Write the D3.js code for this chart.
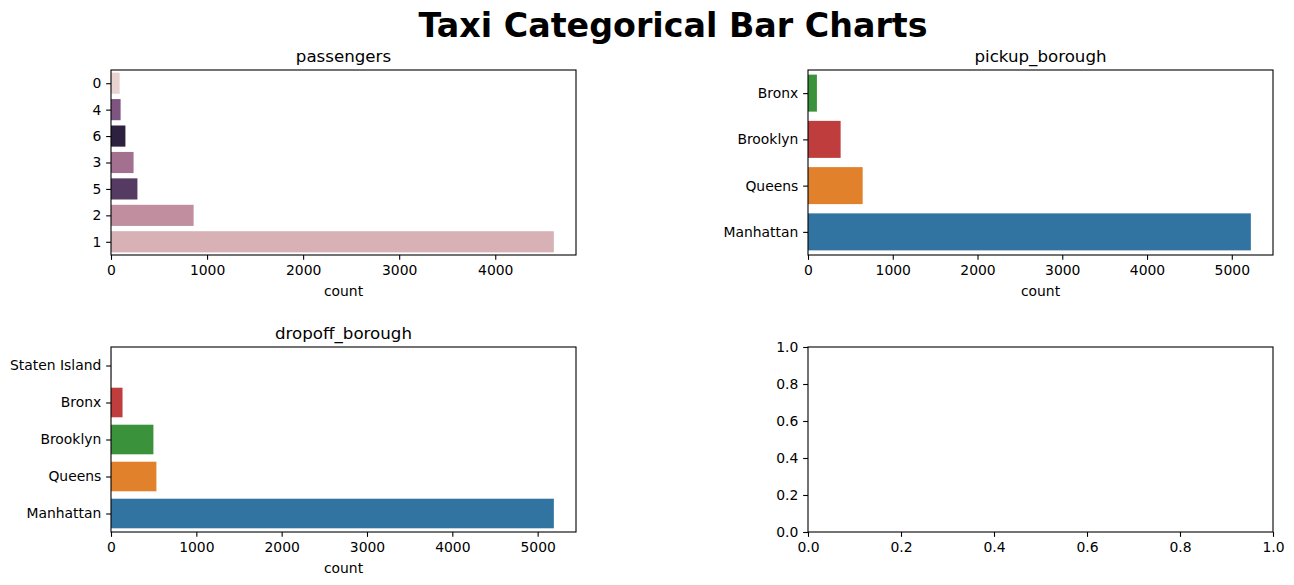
<!DOCTYPE html>
<html>
<head>
<meta charset="utf-8">
<script src="https://cdn.jsdelivr.net/npm/d3@7"></script>
<style>
  html, body { margin: 0; padding: 0; background: #fff; }
  svg { display: block; font-family: "DejaVu Sans", sans-serif; }
</style>
</head>
<body>
<svg id="chart" width="1294" height="585"></svg>
<script>
// ---- data ----
const passengerCategories = ["0", "4", "6", "3", "5", "2", "1"];
const passengerCounts     = [90, 100, 150, 235, 275, 860, 4610];
const passengerColors     = ["#e8d3d0", "#7d5580", "#2e213f", "#a4708f", "#553a62", "#c08e9f", "#d7b1b5"];

const pickupCategories = ["Bronx", "Brooklyn", "Queens", "Manhattan"];
const pickupCounts     = [105, 385, 645, 5225];
const pickupColors     = ["#3a923a", "#c03d3e", "#e1812c", "#3274a1"];

const dropoffCategories = ["Staten Island", "Bronx", "Brooklyn", "Queens", "Manhattan"];
const dropoffCounts     = [2, 135, 497, 532, 5190];
const dropoffColors     = ["#8e6bb0", "#c03d3e", "#3a923a", "#e1812c", "#3274a1"];

const countTicksPassengers = [0, 1000, 2000, 3000, 4000];
const countTicksBorough    = [0, 1000, 2000, 3000, 4000, 5000];
const emptyTicks           = [0.0, 0.2, 0.4, 0.6, 0.8, 1.0];

const suptitle = "Taxi Categorical Bar Charts";

// ---- layout ----
const svg = d3.select("#chart");
const TICK = 4.86, PAD = 4.86, FS = 13.9, TFS = 16.67;
const panels = [
  { x: 111, y: 70,  w: 465, h: 185 },
  { x: 808, y: 70,  w: 465, h: 185 },
  { x: 111, y: 347, w: 465, h: 185 },
  { x: 808, y: 347, w: 465, h: 185 }
];

svg.append("text")
  .attr("x", 673).attr("y", 37)
  .attr("text-anchor", "middle")
  .style("font-size", "33.3px").style("font-weight", "bold")
  .text(suptitle);

function styleAxis(g) {
  g.select(".domain").remove();
  g.selectAll(".tick line").attr("stroke", "#000").attr("stroke-width", 1.1);
  g.selectAll(".tick text").attr("fill", "#000").style("font-size", FS + "px")
    .style("font-family", "'DejaVu Sans', sans-serif");
}

function frame(g, p) {
  g.append("rect").attr("x", 0).attr("y", 0).attr("width", p.w).attr("height", p.h)
    .attr("fill", "none").attr("stroke", "#000").attr("stroke-width", 1.1);
}

function barPanel(p, title, cats, counts, colors, ticks) {
  const g = svg.append("g").attr("transform", `translate(${p.x},${p.y})`);
  const x = d3.scaleLinear().domain([0, d3.max(counts) * 1.05]).range([0, p.w]);
  const y = d3.scaleBand().domain(cats).range([0, p.h]).paddingInner(0.2).paddingOuter(0.1);

  g.selectAll("rect.bar").data(cats).enter().append("rect")
    .attr("class", "bar")
    .attr("x", x(0))
    .attr("y", d => y(d))
    .attr("width", (d, i) => x(counts[i]) - x(0))
    .attr("height", y.bandwidth())
    .attr("fill", (d, i) => colors[i]);

  const xa = g.append("g").attr("transform", `translate(0,${p.h})`)
    .call(d3.axisBottom(x).tickValues(ticks).tickFormat(d3.format("d"))
      .tickSize(TICK).tickPadding(PAD));
  styleAxis(xa);

  const ya = g.append("g")
    .call(d3.axisLeft(d3.scalePoint().domain(cats).range([y(cats[0]) + y.bandwidth() / 2, y(cats[cats.length - 1]) + y.bandwidth() / 2]))
      .tickSize(TICK).tickPadding(PAD));
  styleAxis(ya);

  frame(g, p);

  g.append("text").attr("x", p.w / 2).attr("y", -8)
    .attr("text-anchor", "middle").style("font-size", TFS + "px").text(title);
  g.append("text").attr("x", p.w / 2).attr("y", p.h + 41)
    .attr("text-anchor", "middle").style("font-size", FS + "px").text("count");
}

barPanel(panels[0], "passengers", passengerCategories, passengerCounts, passengerColors, countTicksPassengers);
barPanel(panels[1], "pickup_borough", pickupCategories, pickupCounts, pickupColors, countTicksBorough);
barPanel(panels[2], "dropoff_borough", dropoffCategories, dropoffCounts, dropoffColors, countTicksBorough);

// empty panel
(function () {
  const p = panels[3];
  const g = svg.append("g").attr("transform", `translate(${p.x},${p.y})`);
  const x = d3.scaleLinear().domain([0, 1]).range([0, p.w]);
  const y = d3.scaleLinear().domain([0, 1]).range([p.h, 0]);
  const xa = g.append("g").attr("transform", `translate(0,${p.h})`)
    .call(d3.axisBottom(x).tickValues(emptyTicks).tickFormat(d3.format(".1f")).tickSize(TICK).tickPadding(PAD));
  styleAxis(xa);
  const ya = g.append("g")
    .call(d3.axisLeft(y).tickValues(emptyTicks).tickFormat(d3.format(".1f")).tickSize(TICK).tickPadding(PAD));
  styleAxis(ya);
  frame(g, p);
})();
</script>
</body>
</html>
